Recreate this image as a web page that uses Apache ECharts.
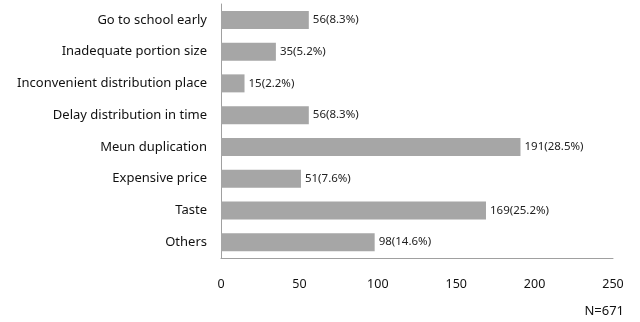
<!DOCTYPE html>
<html>
<head>
<meta charset="utf-8">
<script src="https://cdn.jsdelivr.net/npm/echarts@6/dist/echarts.min.js"></script>
<style>
  html, body { margin: 0; padding: 0; background: #fff; }
  #chart { width: 640px; height: 322px; }
</style>
</head>
<body>
<div id="chart"></div>
<script>
// Reasons listed top to bottom
const categories = [
  'Go to school early',
  'Inadequate portion size',
  'Inconvenient distribution place',
  'Delay distribution in time',
  'Meun duplication',
  'Expensive price',
  'Taste',
  'Others'
];
const counts = [56, 35, 15, 56, 191, 51, 169, 98];
const percents = ['8.3', '5.2', '2.2', '8.3', '28.5', '7.6', '25.2', '14.6'];
const xTicks = [0, 50, 100, 150, 200, 250];
const noteText = 'N=671';

const FONT = '"Noto Sans", "DejaVu Sans", sans-serif';

const chart = echarts.init(document.getElementById('chart'), null, { renderer: 'canvas' });

// category axis runs bottom-up, so reverse to keep the first reason on top
const yCats = categories.slice().reverse();
const barData = counts.map((v, i) => ({ value: v, pct: percents[i] })).reverse();

chart.setOption({
  animation: false,
  grid: { left: 221, right: 27, top: 4, bottom: 64 },
  xAxis: {
    type: 'value',
    min: xTicks[0],
    max: xTicks[xTicks.length - 1],
    interval: 50,
    axisLine: { show: true, lineStyle: { color: '#a0a0a0', width: 1 } },
    axisTick: { show: false },
    splitLine: { show: false },
    axisLabel: { color: '#111', fontSize: 12.5, fontFamily: FONT, margin: 20 }
  },
  yAxis: {
    type: 'category',
    data: yCats,
    axisLine: { show: true, lineStyle: { color: '#a0a0a0', width: 1 } },
    axisTick: { show: false },
    axisLabel: { color: '#111', fontSize: 13, fontFamily: FONT, margin: 14 }
  },
  series: [{
    type: 'bar',
    data: barData,
    barWidth: 18,
    itemStyle: { color: '#a6a6a6' },
    label: {
      show: true,
      position: 'right',
      distance: 4,
      color: '#222',
      fontSize: 11.5,
      fontFamily: FONT,
      formatter: p => p.value + '(' + p.data.pct + '%)'
    }
  }],
  graphic: [{
    type: 'text',
    right: 16,
    top: 305,
    style: { text: noteText, fill: '#111', font: '13px ' + FONT }
  }]
});
</script>
</body>
</html>
